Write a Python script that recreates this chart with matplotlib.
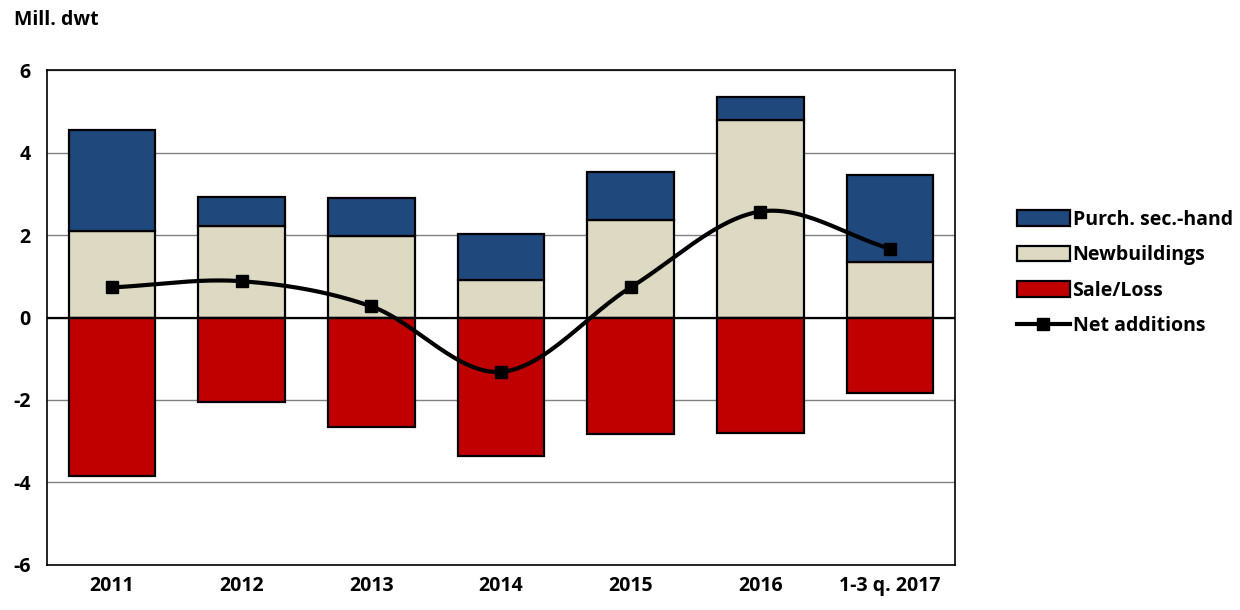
"""Net additions to fleet, stacked bars with smoothed net line"""

import numpy as np
import matplotlib.pyplot as plt
from matplotlib.patches import Patch
from matplotlib.lines import Line2D

plt.rcParams['font.family'] = ['Open Sans', 'DejaVu Sans']
plt.rcParams['font.weight'] = 'bold'

years = ['2011', '2012', '2013', '2014', '2015', '2016', '1-3 q. 2017']
newbuildings = [2.11, 2.22, 1.97, 0.91, 2.36, 4.78, 1.35]
purch_second_hand = [2.45, 0.70, 0.92, 1.11, 1.16, 0.58, 2.10]
sale_loss = [-3.85, -2.05, -2.66, -3.35, -2.82, -2.80, -1.82]
net_additions = [0.73, 0.88, 0.27, -1.32, 0.73, 2.57, 1.67]


def smooth(x, y, steps=30):
    """Catmull-Rom curve through the points, like Excel smoothed lines"""
    x = np.asarray(x, float)
    y = np.asarray(y, float)
    px = np.concatenate([[2 * x[0] - x[1]], x, [2 * x[-1] - x[-2]]])
    py = np.concatenate([[2 * y[0] - y[1]], y, [2 * y[-1] - y[-2]]])
    out_x, out_y = [], []
    t = np.linspace(0, 1, steps)
    for i in range(1, len(px) - 2):
        for arr, out in ((px, out_x), (py, out_y)):
            p0, p1, p2, p3 = arr[i - 1], arr[i], arr[i + 1], arr[i + 2]
            out.extend(0.5 * (2 * p1 + (-p0 + p2) * t
                              + (2 * p0 - 5 * p1 + 4 * p2 - p3) * t ** 2
                              + (-p0 + 3 * p1 - 3 * p2 + p3) * t ** 3))
    return np.array(out_x), np.array(out_y)


fig = plt.figure(figsize=(12.4, 6.1), dpi=100)
axes = fig.add_axes([0.038, 0.074, 0.732, 0.811])

xpos = np.arange(len(years))
width = 0.67
edge = dict(edgecolor='black', linewidth=1.6, zorder=3)

axes.bar(xpos, newbuildings, width, color='#ddd9c3', **edge)
axes.bar(xpos, purch_second_hand, width, bottom=newbuildings,
         color='#1f497d', **edge)
axes.bar(xpos, sale_loss, width, color='#c00000', **edge)

sx, sy = smooth(xpos, net_additions)
axes.plot(sx, sy, color='black', linewidth=3, zorder=4,
          solid_capstyle='round')
axes.plot(xpos, net_additions, 's', color='black', markersize=9, zorder=5)

axes.axhline(0, color='black', linewidth=1.6, zorder=3.5)
axes.set_ylim(-6, 6)
axes.set_xlim(-0.5, len(years) - 0.5)
axes.set_yticks([-6, -4, -2, 0, 2, 4, 6])
axes.set_yticklabels(['-6', '-4', '-2', '0', '2', '4', '6'])
axes.yaxis.grid(True, color='#808080', linewidth=1)
axes.set_axisbelow(True)
axes.tick_params(length=0, labelsize=14, pad=8)
axes.tick_params(axis='y', pad=12)
axes.set_xticks(xpos)
axes.set_xticklabels(years, fontweight='bold')
for spine in axes.spines.values():
    spine.set_linewidth(1.2)
    spine.set_color('black')

fig.text(0.011, 0.968, 'Mill. dwt', fontsize=14, fontweight='bold',
         ha='left', va='center')

handles = [
    Patch(facecolor='#1f497d', edgecolor='black', linewidth=1.6),
    Patch(facecolor='#ddd9c3', edgecolor='black', linewidth=1.6),
    Patch(facecolor='#c00000', edgecolor='black', linewidth=1.6),
    Line2D([], [], color='black', linewidth=3, marker='s', markersize=9),
]
labels = ['Purch. sec.-hand', 'Newbuildings', 'Sale/Loss', 'Net additions']
fig.legend(handles, labels, loc='upper left', bbox_to_anchor=(0.814, 0.669),
           frameon=False, fontsize=14, handlelength=2.7, handleheight=0.85,
           handletextpad=0.15, labelspacing=0.8, borderaxespad=0)

fig.savefig('out.png', dpi=100)
